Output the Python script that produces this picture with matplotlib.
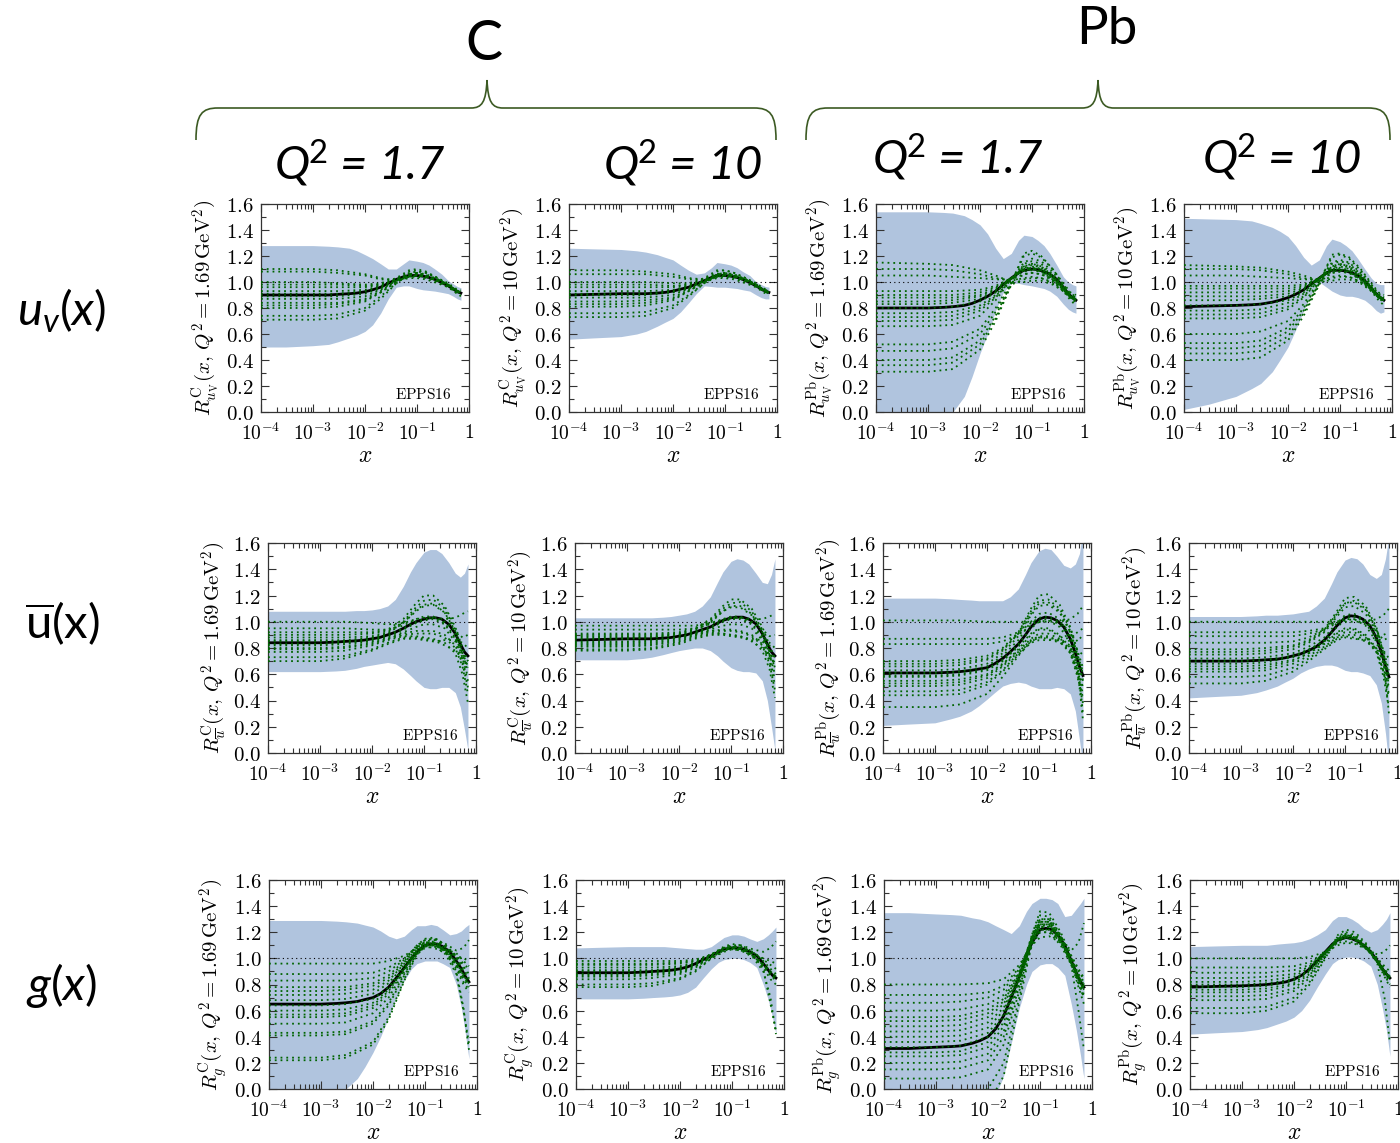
import numpy as np
import matplotlib
matplotlib.use("Agg")
import matplotlib.pyplot as plt
from matplotlib.path import Path
from matplotlib.patches import PathPatch
from matplotlib.ticker import FixedLocator, MultipleLocator, FuncFormatter, NullFormatter

plt.rcParams["mathtext.fontset"] = "cm"
plt.rcParams["mathtext.rm"] = "Lato"
plt.rcParams["mathtext.it"] = "Lato:italic"
plt.rcParams["mathtext.bf"] = "Lato:bold"

# ---------------------------------------------------------------- data
# x nodes for the central fit and the uncertainty band
X_FINE = [1e-4, 3e-4, 1e-3, 2e-3, 3e-3, 5e-3, 7e-3, 1e-2, 1.4e-2, 2e-2, 2.8e-2, 4e-2,
          5.5e-2, 7e-2, 0.1, 0.13, 0.17, 0.22, 0.3, 0.4, 0.5, 0.6, 0.7]
# x nodes for the individual error sets
X_SETS = [1e-4, 1e-3, 3e-3, 1e-2, 2e-2, 4e-2, 7e-2, 0.1, 0.15, 0.25, 0.4, 0.55, 0.7]

# ---- valence u, Carbon, Q^2 = 1.69 GeV^2
uv_C_17_mid = [0.90, 0.90, 0.90, 0.90, 0.905, 0.91, 0.915, 0.925, 0.94, 0.96, 0.99, 1.02,
               1.04, 1.05, 1.05, 1.045, 1.035, 1.02, 0.995, 0.97, 0.945, 0.925, 0.915]
uv_C_17_hi = [1.28, 1.28, 1.28, 1.275, 1.27, 1.26, 1.24, 1.21, 1.18, 1.14, 1.10, 1.10,
              1.14, 1.17, 1.16, 1.15, 1.13, 1.10, 1.06, 1.01, 0.985, 0.965, 0.955]
uv_C_17_lo = [0.50, 0.50, 0.51, 0.52, 0.54, 0.57, 0.59, 0.62, 0.67, 0.76, 0.87, 0.96,
              0.97, 0.97, 0.95, 0.94, 0.935, 0.93, 0.92, 0.91, 0.89, 0.87, 0.86]
uv_C_17_sets = [
    [1.10, 1.10, 1.09, 1.06, 1.03, 1.01, 1.05, 1.06, 1.05, 1.01, 0.97, 0.93, 0.92],
    [1.08, 1.08, 1.07, 1.05, 1.02, 1.02, 1.08, 1.09, 1.07, 1.03, 0.98, 0.94, 0.93],
    [1.00, 1.00, 0.99, 0.98, 0.99, 1.03, 1.09, 1.10, 1.08, 1.03, 0.99, 0.95, 0.94],
    [0.98, 0.98, 0.98, 0.97, 0.98, 1.02, 1.06, 1.07, 1.05, 1.02, 0.98, 0.94, 0.92],
    [0.96, 0.96, 0.96, 0.96, 0.98, 1.02, 1.06, 1.07, 1.05, 1.02, 0.97, 0.93, 0.91],
    [0.93, 0.93, 0.93, 0.94, 0.97, 1.02, 1.05, 1.05, 1.04, 1.01, 0.97, 0.93, 0.92],
    [0.91, 0.91, 0.91, 0.93, 0.96, 1.02, 1.05, 1.05, 1.04, 1.01, 0.97, 0.93, 0.91],
    [0.89, 0.89, 0.89, 0.91, 0.95, 1.01, 1.04, 1.05, 1.04, 1.01, 0.97, 0.93, 0.91],
    [0.87, 0.87, 0.87, 0.89, 0.94, 1.01, 1.04, 1.04, 1.03, 1.00, 0.96, 0.92, 0.90],
    [0.84, 0.84, 0.84, 0.87, 0.93, 1.01, 1.03, 1.03, 1.02, 0.99, 0.96, 0.92, 0.89],
    [0.82, 0.82, 0.83, 0.86, 0.92, 1.00, 1.05, 1.06, 1.05, 1.02, 0.97, 0.93, 0.92],
    [0.80, 0.80, 0.81, 0.85, 0.92, 1.00, 1.04, 1.05, 1.04, 1.01, 0.97, 0.93, 0.91],
    [0.74, 0.74, 0.75, 0.80, 0.89, 0.99, 1.06, 1.07, 1.06, 1.02, 0.98, 0.94, 0.92],
    [0.71, 0.71, 0.72, 0.78, 0.87, 0.99, 1.07, 1.08, 1.07, 1.03, 0.98, 0.94, 0.93],
]

# ---- valence u, Carbon, Q^2 = 10 GeV^2
uv_C_10_mid = [0.90, 0.905, 0.91, 0.91, 0.91, 0.915, 0.92, 0.93, 0.945, 0.96, 0.985, 1.01,
               1.035, 1.05, 1.05, 1.045, 1.035, 1.02, 0.995, 0.97, 0.945, 0.93, 0.92]
uv_C_10_hi = [1.26, 1.255, 1.25, 1.24, 1.23, 1.21, 1.19, 1.17, 1.13, 1.09, 1.06, 1.07,
              1.11, 1.15, 1.14, 1.13, 1.11, 1.08, 1.05, 1.00, 0.98, 0.965, 0.96]
uv_C_10_lo = [0.56, 0.57, 0.58, 0.60, 0.62, 0.66, 0.69, 0.72, 0.77, 0.84, 0.91, 0.97,
              0.965, 0.96, 0.96, 0.955, 0.95, 0.94, 0.93, 0.90, 0.88, 0.87, 0.87]
uv_C_10_sets = [
    [1.09, 1.09, 1.08, 1.06, 1.03, 1.02, 1.06, 1.07, 1.05, 1.02, 0.98, 0.94, 0.93],
    [1.06, 1.06, 1.06, 1.04, 1.02, 1.02, 1.08, 1.09, 1.07, 1.03, 0.98, 0.94, 0.93],
    [1.00, 1.00, 1.00, 0.99, 0.99, 1.03, 1.09, 1.09, 1.07, 1.03, 0.99, 0.95, 0.94],
    [0.98, 0.98, 0.98, 0.97, 0.98, 1.02, 1.06, 1.07, 1.05, 1.02, 0.98, 0.94, 0.93],
    [0.96, 0.96, 0.96, 0.96, 0.98, 1.02, 1.06, 1.06, 1.05, 1.02, 0.97, 0.94, 0.92],
    [0.93, 0.93, 0.93, 0.94, 0.97, 1.01, 1.05, 1.05, 1.04, 1.01, 0.97, 0.93, 0.92],
    [0.91, 0.91, 0.91, 0.93, 0.96, 1.01, 1.05, 1.05, 1.04, 1.01, 0.97, 0.94, 0.92],
    [0.90, 0.90, 0.90, 0.92, 0.95, 1.01, 1.04, 1.05, 1.04, 1.01, 0.97, 0.93, 0.91],
    [0.88, 0.88, 0.88, 0.90, 0.95, 1.01, 1.04, 1.04, 1.03, 1.00, 0.96, 0.93, 0.91],
    [0.85, 0.85, 0.86, 0.88, 0.94, 1.00, 1.03, 1.03, 1.02, 0.99, 0.96, 0.92, 0.90],
    [0.83, 0.83, 0.84, 0.87, 0.93, 1.00, 1.05, 1.06, 1.05, 1.02, 0.97, 0.93, 0.92],
    [0.81, 0.81, 0.82, 0.86, 0.93, 1.00, 1.04, 1.05, 1.04, 1.01, 0.97, 0.93, 0.91],
    [0.76, 0.76, 0.77, 0.82, 0.90, 0.99, 1.06, 1.07, 1.05, 1.02, 0.97, 0.94, 0.92],
    [0.73, 0.73, 0.74, 0.80, 0.89, 0.99, 1.06, 1.07, 1.06, 1.02, 0.98, 0.94, 0.92],
]

# ---- valence u, Lead, Q^2 = 1.69 GeV^2
uv_Pb_17_mid = [0.80, 0.80, 0.80, 0.805, 0.81, 0.82, 0.835, 0.86, 0.89, 0.93, 0.98, 1.03,
                1.07, 1.09, 1.10, 1.095, 1.08, 1.06, 1.02, 0.96, 0.91, 0.88, 0.86]
uv_Pb_17_hi = [1.54, 1.54, 1.54, 1.535, 1.53, 1.51, 1.48, 1.44, 1.37, 1.26, 1.18, 1.22,
               1.32, 1.36, 1.35, 1.32, 1.28, 1.22, 1.13, 1.04, 1.00, 0.98, 0.97]
uv_Pb_17_lo = [-0.30, -0.22, -0.15, -0.06, 0.00, 0.12, 0.27, 0.45, 0.60, 0.78, 0.92, 0.99,
               0.99, 0.98, 0.97, 0.96, 0.95, 0.93, 0.89, 0.83, 0.79, 0.77, 0.76]
uv_Pb_17_sets = [
    [1.15, 1.14, 1.13, 1.09, 1.05, 1.00, 1.00, 1.01, 1.01, 0.98, 0.93, 0.88, 0.86],
    [1.10, 1.10, 1.09, 1.06, 1.03, 1.01, 1.03, 1.04, 1.03, 0.99, 0.93, 0.88, 0.86],
    [1.05, 1.05, 1.04, 1.03, 1.02, 1.02, 1.06, 1.07, 1.06, 1.01, 0.94, 0.88, 0.86],
    [0.93, 0.93, 0.93, 0.94, 0.97, 1.03, 1.10, 1.12, 1.10, 1.04, 0.95, 0.89, 0.87],
    [0.90, 0.90, 0.90, 0.92, 0.96, 1.03, 1.11, 1.13, 1.11, 1.04, 0.96, 0.89, 0.87],
    [0.88, 0.88, 0.88, 0.90, 0.95, 1.03, 1.12, 1.14, 1.12, 1.05, 0.96, 0.90, 0.88],
    [0.85, 0.85, 0.86, 0.89, 0.94, 1.03, 1.08, 1.09, 1.08, 1.02, 0.94, 0.88, 0.86],
    [0.83, 0.83, 0.84, 0.87, 0.93, 1.03, 1.09, 1.10, 1.09, 1.03, 0.95, 0.89, 0.86],
    [0.80, 0.80, 0.81, 0.85, 0.92, 1.03, 1.09, 1.10, 1.08, 1.02, 0.94, 0.88, 0.86],
    [0.76, 0.76, 0.77, 0.82, 0.90, 1.03, 1.10, 1.11, 1.09, 1.03, 0.95, 0.89, 0.87],
    [0.73, 0.73, 0.74, 0.80, 0.89, 1.02, 1.12, 1.14, 1.12, 1.05, 0.96, 0.89, 0.87],
    [0.70, 0.70, 0.71, 0.78, 0.88, 1.02, 1.15, 1.18, 1.16, 1.08, 0.97, 0.90, 0.88],
    [0.66, 0.66, 0.67, 0.74, 0.86, 1.02, 1.10, 1.11, 1.10, 1.04, 0.95, 0.89, 0.86],
    [0.52, 0.52, 0.54, 0.64, 0.80, 1.00, 1.20, 1.22, 1.19, 1.10, 0.98, 0.91, 0.89],
    [0.47, 0.47, 0.49, 0.60, 0.77, 0.99, 1.06, 1.07, 1.06, 1.02, 0.94, 0.88, 0.84],
    [0.40, 0.40, 0.42, 0.55, 0.74, 0.99, 1.22, 1.24, 1.20, 1.10, 0.99, 0.92, 0.90],
    [0.36, 0.36, 0.38, 0.52, 0.72, 0.98, 1.02, 1.03, 1.03, 1.00, 0.93, 0.86, 0.82],
    [0.31, 0.31, 0.33, 0.48, 0.70, 0.98, 1.14, 1.16, 1.14, 1.06, 0.96, 0.89, 0.86],
]

# ---- valence u, Lead, Q^2 = 10 GeV^2
uv_Pb_10_mid = [0.81, 0.815, 0.82, 0.825, 0.83, 0.845, 0.86, 0.88, 0.905, 0.94, 0.985, 1.03,
                1.07, 1.09, 1.09, 1.085, 1.07, 1.05, 1.01, 0.95, 0.91, 0.88, 0.86]
uv_Pb_10_hi = [1.49, 1.485, 1.48, 1.47, 1.45, 1.42, 1.39, 1.35, 1.28, 1.19, 1.13, 1.17,
               1.28, 1.33, 1.31, 1.28, 1.24, 1.18, 1.10, 1.03, 0.99, 0.98, 0.98]
uv_Pb_10_lo = [0.02, 0.06, 0.12, 0.18, 0.22, 0.31, 0.40, 0.50, 0.63, 0.78, 0.91, 1.00,
               0.96, 0.93, 0.90, 0.89, 0.89, 0.88, 0.86, 0.82, 0.78, 0.76, 0.77]
uv_Pb_10_sets = [
    [1.13, 1.12, 1.11, 1.08, 1.05, 1.01, 1.01, 1.02, 1.02, 0.99, 0.93, 0.88, 0.86],
    [1.10, 1.10, 1.09, 1.06, 1.03, 1.01, 1.04, 1.05, 1.04, 1.00, 0.94, 0.88, 0.86],
    [1.05, 1.05, 1.04, 1.03, 1.02, 1.02, 1.07, 1.08, 1.07, 1.02, 0.94, 0.88, 0.86],
    [0.97, 0.97, 0.97, 0.97, 0.98, 1.03, 1.10, 1.12, 1.10, 1.04, 0.95, 0.89, 0.87],
    [0.95, 0.95, 0.95, 0.95, 0.97, 1.03, 1.11, 1.13, 1.11, 1.04, 0.96, 0.89, 0.87],
    [0.92, 0.92, 0.92, 0.93, 0.96, 1.03, 1.12, 1.14, 1.12, 1.05, 0.96, 0.90, 0.88],
    [0.89, 0.89, 0.89, 0.91, 0.95, 1.03, 1.08, 1.09, 1.08, 1.02, 0.94, 0.88, 0.86],
    [0.86, 0.86, 0.87, 0.89, 0.94, 1.03, 1.09, 1.10, 1.09, 1.03, 0.95, 0.89, 0.86],
    [0.82, 0.82, 0.83, 0.86, 0.92, 1.03, 1.09, 1.10, 1.08, 1.02, 0.94, 0.88, 0.86],
    [0.78, 0.78, 0.79, 0.84, 0.91, 1.03, 1.10, 1.11, 1.09, 1.03, 0.95, 0.89, 0.87],
    [0.75, 0.75, 0.76, 0.81, 0.89, 1.02, 1.12, 1.14, 1.12, 1.05, 0.96, 0.89, 0.87],
    [0.72, 0.72, 0.73, 0.79, 0.88, 1.02, 1.15, 1.17, 1.15, 1.07, 0.97, 0.90, 0.88],
    [0.60, 0.60, 0.62, 0.70, 0.83, 1.01, 1.19, 1.21, 1.18, 1.09, 0.98, 0.91, 0.89],
    [0.53, 0.53, 0.55, 0.65, 0.80, 1.00, 1.07, 1.08, 1.07, 1.02, 0.94, 0.88, 0.84],
    [0.49, 0.49, 0.51, 0.62, 0.78, 0.99, 1.21, 1.22, 1.19, 1.10, 0.99, 0.92, 0.90],
    [0.45, 0.45, 0.47, 0.58, 0.76, 0.99, 1.03, 1.04, 1.04, 1.00, 0.93, 0.86, 0.82],
    [0.40, 0.40, 0.42, 0.55, 0.74, 0.98, 1.14, 1.16, 1.14, 1.06, 0.96, 0.89, 0.86],
]

# ---- anti-u, Carbon, Q^2 = 1.69 GeV^2
ub_C_17_mid = [0.84, 0.84, 0.84, 0.845, 0.85, 0.855, 0.86, 0.87, 0.88, 0.90, 0.92, 0.95,
               0.98, 1.00, 1.02, 1.03, 1.03, 1.02, 0.98, 0.91, 0.83, 0.77, 0.74]
ub_C_17_hi = [1.08, 1.08, 1.08, 1.08, 1.08, 1.085, 1.085, 1.09, 1.10, 1.12, 1.17, 1.27,
              1.38, 1.45, 1.53, 1.55, 1.55, 1.52, 1.45, 1.37, 1.34, 1.37, 1.44]
ub_C_17_lo = [0.62, 0.62, 0.62, 0.625, 0.63, 0.645, 0.66, 0.67, 0.68, 0.69, 0.68, 0.64,
              0.59, 0.55, 0.50, 0.49, 0.49, 0.50, 0.50, 0.46, 0.35, 0.18, 0.02]
ub_C_17_sets = [
    [1.00, 1.00, 1.00, 0.99, 0.98, 0.99, 1.02, 1.03, 1.03, 1.02, 1.03, 1.06, 1.08],
    [0.95, 0.95, 0.95, 0.94, 0.94, 0.97, 1.02, 1.04, 1.04, 1.00, 0.93, 0.88, 0.90],
    [0.92, 0.92, 0.92, 0.92, 0.94, 1.02, 1.14, 1.20, 1.20, 1.12, 0.96, 0.80, 0.70],
    [0.90, 0.90, 0.90, 0.91, 0.93, 0.99, 1.08, 1.12, 1.13, 1.07, 0.93, 0.76, 0.66],
    [0.88, 0.88, 0.88, 0.89, 0.92, 1.00, 1.11, 1.16, 1.17, 1.10, 0.94, 0.76, 0.62],
    [0.86, 0.86, 0.86, 0.88, 0.91, 0.99, 1.09, 1.13, 1.14, 1.07, 0.91, 0.72, 0.58],
    [0.85, 0.85, 0.85, 0.87, 0.90, 0.95, 1.00, 1.02, 1.03, 0.99, 0.88, 0.76, 0.70],
    [0.83, 0.83, 0.84, 0.86, 0.89, 0.94, 0.99, 1.01, 1.02, 0.98, 0.87, 0.74, 0.66],
    [0.82, 0.82, 0.83, 0.85, 0.88, 0.92, 0.96, 0.98, 0.98, 0.95, 0.85, 0.70, 0.55],
    [0.80, 0.80, 0.81, 0.84, 0.87, 0.90, 0.91, 0.91, 0.91, 0.88, 0.80, 0.66, 0.45],
    [0.79, 0.79, 0.80, 0.83, 0.87, 0.91, 0.93, 0.93, 0.93, 0.90, 0.82, 0.68, 0.50],
    [0.77, 0.77, 0.78, 0.82, 0.86, 0.89, 0.89, 0.88, 0.87, 0.84, 0.76, 0.60, 0.38],
    [0.73, 0.73, 0.74, 0.79, 0.84, 0.88, 0.88, 0.87, 0.86, 0.82, 0.78, 0.72, 0.65],
    [0.70, 0.70, 0.72, 0.78, 0.83, 0.87, 0.87, 0.86, 0.85, 0.86, 0.86, 0.84, 0.80],
]

# ---- anti-u, Carbon, Q^2 = 10 GeV^2
ub_C_10_mid = [0.86, 0.865, 0.87, 0.87, 0.87, 0.875, 0.88, 0.89, 0.90, 0.92, 0.94, 0.96,
               0.99, 1.01, 1.03, 1.035, 1.035, 1.02, 0.985, 0.91, 0.83, 0.77, 0.74]
ub_C_10_hi = [1.03, 1.03, 1.03, 1.03, 1.03, 1.035, 1.04, 1.05, 1.06, 1.08, 1.12, 1.19,
              1.30, 1.38, 1.46, 1.48, 1.47, 1.44, 1.37, 1.30, 1.29, 1.36, 1.48]
ub_C_10_lo = [0.71, 0.71, 0.71, 0.72, 0.73, 0.75, 0.765, 0.78, 0.79, 0.80, 0.80, 0.78,
              0.74, 0.70, 0.65, 0.63, 0.62, 0.62, 0.61, 0.55, 0.40, 0.20, 0.02]
ub_C_10_sets = [
    [0.97, 0.97, 0.97, 0.97, 0.97, 0.99, 1.02, 1.03, 1.03, 1.02, 1.02, 1.04, 1.06],
    [0.94, 0.94, 0.94, 0.94, 0.95, 0.98, 1.02, 1.04, 1.04, 1.00, 0.94, 0.89, 0.90],
    [0.91, 0.91, 0.91, 0.92, 0.95, 1.02, 1.12, 1.17, 1.17, 1.10, 0.96, 0.82, 0.72],
    [0.90, 0.90, 0.90, 0.91, 0.94, 1.00, 1.08, 1.11, 1.11, 1.05, 0.92, 0.77, 0.68],
    [0.89, 0.89, 0.89, 0.91, 0.94, 1.01, 1.10, 1.14, 1.15, 1.08, 0.94, 0.78, 0.65],
    [0.88, 0.88, 0.88, 0.90, 0.92, 0.96, 1.01, 1.03, 1.03, 0.99, 0.89, 0.78, 0.72],
    [0.87, 0.87, 0.88, 0.90, 0.93, 0.99, 1.08, 1.12, 1.12, 1.06, 0.92, 0.75, 0.60],
    [0.85, 0.85, 0.86, 0.88, 0.91, 0.94, 0.97, 0.98, 0.98, 0.95, 0.86, 0.72, 0.56],
    [0.84, 0.84, 0.85, 0.88, 0.91, 0.95, 1.00, 1.02, 1.02, 0.98, 0.87, 0.74, 0.66],
    [0.83, 0.83, 0.84, 0.87, 0.90, 0.93, 0.93, 0.93, 0.92, 0.89, 0.82, 0.68, 0.48],
    [0.82, 0.82, 0.83, 0.86, 0.90, 0.93, 0.94, 0.94, 0.93, 0.90, 0.83, 0.70, 0.52],
    [0.81, 0.81, 0.82, 0.85, 0.89, 0.92, 0.91, 0.90, 0.89, 0.86, 0.78, 0.64, 0.42],
    [0.79, 0.79, 0.80, 0.84, 0.88, 0.91, 0.91, 0.90, 0.89, 0.85, 0.80, 0.74, 0.68],
    [0.78, 0.78, 0.79, 0.83, 0.87, 0.90, 0.90, 0.89, 0.88, 0.87, 0.86, 0.84, 0.80],
]

# ---- anti-u, Lead, Q^2 = 1.69 GeV^2
ub_Pb_17_mid = [0.61, 0.61, 0.61, 0.615, 0.62, 0.63, 0.64, 0.65, 0.68, 0.72, 0.77, 0.83,
                0.90, 0.96, 1.02, 1.035, 1.03, 1.01, 0.96, 0.87, 0.76, 0.66, 0.59]
ub_Pb_17_hi = [1.18, 1.18, 1.18, 1.175, 1.17, 1.165, 1.16, 1.16, 1.16, 1.16, 1.19, 1.25,
               1.36, 1.45, 1.54, 1.56, 1.55, 1.50, 1.43, 1.41, 1.44, 1.52, 1.70]
ub_Pb_17_lo = [0.21, 0.22, 0.23, 0.26, 0.28, 0.32, 0.36, 0.41, 0.46, 0.51, 0.53, 0.54,
               0.53, 0.51, 0.49, 0.49, 0.49, 0.50, 0.49, 0.45, 0.32, 0.10, -0.10]
ub_Pb_17_sets = [
    [1.01, 1.01, 1.01, 1.00, 1.00, 1.00, 1.00, 1.00, 1.00, 1.00, 1.02, 1.06, 1.12],
    [0.87, 0.87, 0.87, 0.87, 0.88, 0.92, 0.99, 1.03, 1.04, 1.00, 0.92, 0.85, 0.90],
    [0.83, 0.83, 0.83, 0.83, 0.85, 0.90, 0.97, 1.01, 1.02, 0.98, 0.88, 0.78, 0.75],
    [0.70, 0.70, 0.71, 0.74, 0.80, 0.92, 1.08, 1.16, 1.17, 1.10, 0.95, 0.78, 0.65],
    [0.68, 0.68, 0.69, 0.72, 0.79, 0.91, 1.06, 1.14, 1.15, 1.08, 0.93, 0.75, 0.62],
    [0.66, 0.66, 0.67, 0.71, 0.78, 0.91, 1.10, 1.20, 1.21, 1.13, 0.96, 0.76, 0.60],
    [0.63, 0.63, 0.64, 0.68, 0.76, 0.89, 1.05, 1.12, 1.13, 1.07, 0.92, 0.72, 0.55],
    [0.61, 0.61, 0.62, 0.66, 0.74, 0.86, 1.00, 1.06, 1.07, 1.02, 0.88, 0.70, 0.56],
    [0.59, 0.59, 0.60, 0.64, 0.71, 0.83, 0.95, 1.00, 1.01, 0.96, 0.84, 0.66, 0.50],
    [0.58, 0.58, 0.59, 0.63, 0.70, 0.81, 0.91, 0.95, 0.95, 0.90, 0.80, 0.62, 0.45],
    [0.55, 0.55, 0.56, 0.60, 0.68, 0.78, 0.87, 0.91, 0.91, 0.87, 0.76, 0.58, 0.38],
    [0.53, 0.53, 0.54, 0.59, 0.67, 0.79, 0.90, 0.94, 0.94, 0.89, 0.78, 0.60, 0.42],
    [0.51, 0.51, 0.52, 0.57, 0.66, 0.77, 0.86, 0.89, 0.89, 0.85, 0.76, 0.62, 0.50],
    [0.47, 0.47, 0.48, 0.54, 0.63, 0.76, 0.85, 0.88, 0.87, 0.84, 0.80, 0.70, 0.30],
    [0.44, 0.44, 0.45, 0.52, 0.62, 0.75, 0.84, 0.86, 0.86, 0.86, 0.88, 0.92, 0.95],
    [0.35, 0.35, 0.37, 0.45, 0.58, 0.74, 0.85, 0.88, 0.88, 0.86, 0.82, 0.65, 0.25],
]

# ---- anti-u, Lead, Q^2 = 10 GeV^2
ub_Pb_10_mid = [0.70, 0.70, 0.70, 0.705, 0.71, 0.715, 0.725, 0.74, 0.755, 0.78, 0.81, 0.86,
                0.92, 0.97, 1.03, 1.045, 1.04, 1.02, 0.97, 0.88, 0.77, 0.66, 0.58]
ub_Pb_10_hi = [1.04, 1.04, 1.04, 1.045, 1.05, 1.05, 1.055, 1.06, 1.07, 1.08, 1.12, 1.18,
               1.29, 1.38, 1.47, 1.49, 1.48, 1.44, 1.36, 1.33, 1.36, 1.48, 1.65]
ub_Pb_10_lo = [0.42, 0.43, 0.44, 0.46, 0.48, 0.51, 0.54, 0.57, 0.61, 0.64, 0.66, 0.67,
               0.67, 0.66, 0.63, 0.62, 0.62, 0.61, 0.59, 0.52, 0.38, 0.15, -0.10]
ub_Pb_10_sets = [
    [1.00, 1.00, 1.00, 1.00, 1.00, 1.00, 1.00, 1.00, 1.00, 1.00, 1.02, 1.05, 1.10],
    [0.92, 0.92, 0.92, 0.92, 0.93, 0.95, 1.00, 1.03, 1.04, 1.00, 0.93, 0.86, 0.88],
    [0.89, 0.89, 0.89, 0.89, 0.91, 0.94, 0.99, 1.02, 1.02, 0.98, 0.89, 0.78, 0.72],
    [0.84, 0.84, 0.84, 0.85, 0.88, 0.94, 1.06, 1.14, 1.16, 1.10, 0.95, 0.78, 0.63],
    [0.79, 0.79, 0.80, 0.82, 0.86, 0.94, 1.08, 1.18, 1.19, 1.12, 0.96, 0.76, 0.58],
    [0.77, 0.77, 0.78, 0.81, 0.85, 0.93, 1.06, 1.14, 1.15, 1.09, 0.94, 0.75, 0.60],
    [0.75, 0.75, 0.76, 0.79, 0.84, 0.92, 1.04, 1.11, 1.12, 1.06, 0.92, 0.72, 0.52],
    [0.72, 0.72, 0.73, 0.76, 0.81, 0.88, 0.99, 1.05, 1.06, 1.01, 0.88, 0.70, 0.55],
    [0.70, 0.70, 0.71, 0.74, 0.79, 0.85, 0.92, 0.95, 0.95, 0.90, 0.80, 0.62, 0.42],
    [0.68, 0.68, 0.69, 0.73, 0.78, 0.86, 0.96, 1.01, 1.02, 0.97, 0.85, 0.67, 0.50],
    [0.66, 0.66, 0.67, 0.71, 0.76, 0.83, 0.89, 0.92, 0.92, 0.88, 0.77, 0.58, 0.35],
    [0.64, 0.64, 0.65, 0.70, 0.76, 0.84, 0.91, 0.94, 0.94, 0.89, 0.79, 0.62, 0.45],
    [0.62, 0.62, 0.63, 0.68, 0.74, 0.81, 0.88, 0.90, 0.90, 0.86, 0.77, 0.62, 0.48],
    [0.58, 0.58, 0.59, 0.65, 0.72, 0.80, 0.87, 0.89, 0.88, 0.85, 0.80, 0.70, 0.30],
    [0.53, 0.53, 0.55, 0.62, 0.70, 0.79, 0.86, 0.88, 0.87, 0.86, 0.88, 0.90, 0.92],
]

# ---- gluon, Carbon, Q^2 = 1.69 GeV^2
g_C_17_mid = [0.65, 0.65, 0.65, 0.655, 0.66, 0.67, 0.685, 0.70, 0.73, 0.78, 0.85, 0.93,
              1.00, 1.05, 1.10, 1.11, 1.11, 1.09, 1.05, 0.98, 0.92, 0.86, 0.82]
g_C_17_hi = [1.29, 1.29, 1.29, 1.285, 1.28, 1.27, 1.255, 1.24, 1.21, 1.17, 1.15, 1.17,
             1.22, 1.25, 1.25, 1.26, 1.25, 1.22, 1.18, 1.19, 1.21, 1.24, 1.26]
g_C_17_lo = [-0.20, -0.12, -0.05, -0.01, 0.00, 0.08, 0.17, 0.28, 0.40, 0.55, 0.70, 0.83,
             0.92, 0.96, 0.98, 0.98, 0.98, 0.96, 0.93, 0.80, 0.62, 0.42, 0.23]
g_C_17_sets = [
    [0.96, 0.96, 0.96, 0.96, 0.98, 1.02, 1.08, 1.10, 1.10, 1.06, 1.02, 1.00, 0.98],
    [0.88, 0.88, 0.88, 0.89, 0.93, 1.00, 1.09, 1.12, 1.12, 1.08, 1.02, 0.96, 0.92],
    [0.83, 0.83, 0.83, 0.85, 0.90, 0.99, 1.10, 1.14, 1.15, 1.11, 1.06, 1.08, 1.14],
    [0.78, 0.78, 0.78, 0.81, 0.87, 0.98, 1.10, 1.15, 1.16, 1.10, 1.02, 0.94, 0.88],
    [0.75, 0.75, 0.76, 0.79, 0.85, 0.97, 1.09, 1.14, 1.15, 1.09, 1.00, 0.90, 0.84],
    [0.72, 0.72, 0.73, 0.76, 0.83, 0.96, 1.08, 1.13, 1.14, 1.09, 1.01, 0.92, 0.85],
    [0.68, 0.68, 0.69, 0.73, 0.81, 0.95, 1.07, 1.12, 1.13, 1.07, 0.98, 0.88, 0.82],
    [0.64, 0.64, 0.65, 0.69, 0.78, 0.93, 1.06, 1.11, 1.12, 1.06, 0.97, 0.87, 0.81],
    [0.60, 0.60, 0.61, 0.66, 0.76, 0.92, 1.06, 1.11, 1.12, 1.06, 0.96, 0.86, 0.80],
    [0.57, 0.57, 0.58, 0.64, 0.75, 0.92, 1.05, 1.10, 1.11, 1.05, 0.94, 0.82, 0.76],
    [0.55, 0.55, 0.56, 0.62, 0.73, 0.91, 1.07, 1.12, 1.12, 1.05, 0.92, 0.80, 0.74],
    [0.50, 0.50, 0.51, 0.58, 0.70, 0.90, 1.05, 1.10, 1.10, 1.03, 0.88, 0.60, 0.35],
    [0.43, 0.43, 0.44, 0.52, 0.66, 0.88, 1.04, 1.09, 1.08, 1.04, 0.95, 0.84, 0.78],
    [0.41, 0.41, 0.42, 0.50, 0.64, 0.87, 1.03, 1.08, 1.09, 1.07, 1.04, 0.98, 0.94],
    [0.24, 0.24, 0.26, 0.36, 0.55, 0.84, 1.04, 1.10, 1.11, 1.05, 0.90, 0.62, 0.30],
    [0.22, 0.22, 0.24, 0.34, 0.53, 0.83, 1.03, 1.09, 1.10, 1.06, 0.96, 0.86, 0.80],
]

# ---- gluon, Carbon, Q^2 = 10 GeV^2
g_C_10_mid = [0.89, 0.89, 0.89, 0.895, 0.90, 0.905, 0.91, 0.92, 0.935, 0.96, 0.99, 1.02,
              1.05, 1.07, 1.08, 1.08, 1.07, 1.05, 1.02, 0.96, 0.91, 0.87, 0.85]
g_C_10_hi = [1.08, 1.085, 1.09, 1.09, 1.09, 1.09, 1.085, 1.08, 1.075, 1.07, 1.07, 1.09,
             1.13, 1.16, 1.18, 1.18, 1.17, 1.15, 1.13, 1.15, 1.18, 1.21, 1.24]
g_C_10_lo = [0.69, 0.69, 0.69, 0.695, 0.70, 0.705, 0.71, 0.72, 0.74, 0.78, 0.85, 0.92,
             0.97, 0.99, 1.00, 1.00, 0.99, 0.97, 0.93, 0.80, 0.68, 0.55, 0.42]
g_C_10_sets = [
    [0.98, 0.98, 0.98, 0.98, 0.99, 1.03, 1.08, 1.09, 1.08, 1.04, 1.00, 0.98, 0.96],
    [0.96, 0.96, 0.96, 0.97, 0.98, 1.03, 1.08, 1.09, 1.09, 1.05, 0.99, 0.95, 0.92],
    [0.95, 0.95, 0.95, 0.96, 0.98, 1.03, 1.08, 1.10, 1.10, 1.07, 1.05, 1.08, 1.13],
    [0.93, 0.93, 0.93, 0.94, 0.97, 1.03, 1.09, 1.11, 1.10, 1.05, 0.98, 0.92, 0.88],
    [0.91, 0.91, 0.91, 0.93, 0.96, 1.02, 1.08, 1.09, 1.08, 1.03, 0.96, 0.90, 0.86],
    [0.90, 0.90, 0.90, 0.92, 0.96, 1.02, 1.08, 1.09, 1.08, 1.03, 0.95, 0.88, 0.84],
    [0.88, 0.88, 0.89, 0.91, 0.95, 1.02, 1.07, 1.08, 1.07, 1.02, 0.94, 0.87, 0.83],
    [0.87, 0.87, 0.88, 0.90, 0.94, 1.01, 1.07, 1.08, 1.07, 1.02, 0.93, 0.84, 0.80],
    [0.86, 0.86, 0.87, 0.89, 0.94, 1.01, 1.07, 1.08, 1.07, 1.02, 0.95, 0.88, 0.84],
    [0.84, 0.84, 0.85, 0.88, 0.93, 1.01, 1.06, 1.07, 1.06, 1.01, 0.90, 0.70, 0.42],
    [0.80, 0.80, 0.81, 0.85, 0.91, 1.00, 1.05, 1.07, 1.06, 1.02, 0.95, 0.90, 0.86],
    [0.78, 0.78, 0.79, 0.84, 0.90, 1.00, 1.06, 1.08, 1.07, 1.03, 0.92, 0.65, 0.45],
]

# ---- gluon, Lead, Q^2 = 1.69 GeV^2
g_Pb_17_mid = [0.31, 0.31, 0.32, 0.325, 0.33, 0.35, 0.37, 0.40, 0.46, 0.56, 0.70, 0.86,
               1.02, 1.12, 1.22, 1.23, 1.22, 1.18, 1.10, 0.98, 0.89, 0.82, 0.78]
g_Pb_17_hi = [1.35, 1.35, 1.34, 1.335, 1.33, 1.31, 1.30, 1.28, 1.25, 1.22, 1.19, 1.25,
              1.36, 1.42, 1.46, 1.46, 1.45, 1.42, 1.32, 1.33, 1.38, 1.42, 1.46]
g_Pb_17_lo = [-1.00, -0.90, -0.80, -0.70, -0.60, -0.45, -0.32, -0.20, -0.05, 0.10, 0.35, 0.62,
              0.80, 0.90, 0.95, 0.96, 0.96, 0.93, 0.87, 0.65, 0.45, 0.26, 0.08]
g_Pb_17_sets = [
    [0.80, 0.80, 0.80, 0.81, 0.84, 0.95, 1.10, 1.16, 1.17, 1.12, 1.02, 0.92, 0.85],
    [0.72, 0.72, 0.72, 0.74, 0.79, 0.93, 1.12, 1.20, 1.20, 1.14, 1.06, 1.12, 1.27],
    [0.66, 0.66, 0.67, 0.70, 0.76, 0.92, 1.14, 1.24, 1.24, 1.14, 0.98, 0.84, 0.76],
    [0.60, 0.60, 0.61, 0.65, 0.72, 0.90, 1.15, 1.26, 1.26, 1.15, 0.98, 0.82, 0.70],
    [0.55, 0.55, 0.56, 0.61, 0.69, 0.89, 1.16, 1.28, 1.28, 1.16, 0.97, 0.78, 0.65],
    [0.52, 0.52, 0.53, 0.58, 0.67, 0.88, 1.16, 1.28, 1.28, 1.16, 0.98, 0.84, 0.76],
    [0.48, 0.48, 0.49, 0.55, 0.65, 0.88, 1.17, 1.30, 1.30, 1.17, 0.98, 0.86, 0.80],
    [0.44, 0.44, 0.45, 0.51, 0.62, 0.87, 1.18, 1.33, 1.32, 1.18, 1.00, 0.88, 0.82],
    [0.40, 0.40, 0.41, 0.47, 0.60, 0.86, 1.15, 1.26, 1.26, 1.15, 0.95, 0.60, 0.30],
    [0.36, 0.36, 0.37, 0.43, 0.57, 0.85, 1.13, 1.24, 1.24, 1.13, 0.98, 0.86, 0.79],
    [0.32, 0.32, 0.33, 0.40, 0.55, 0.85, 1.12, 1.22, 1.22, 1.12, 0.98, 0.85, 0.78],
    [0.28, 0.28, 0.29, 0.36, 0.51, 0.83, 1.14, 1.26, 1.26, 1.14, 0.97, 0.84, 0.76],
    [0.25, 0.25, 0.26, 0.32, 0.48, 0.82, 1.12, 1.22, 1.22, 1.12, 0.96, 0.86, 0.80],
    [0.20, 0.20, 0.21, 0.27, 0.44, 0.80, 1.16, 1.30, 1.30, 1.17, 1.00, 0.85, 0.74],
    [0.15, 0.15, 0.16, 0.22, 0.40, 0.78, 1.10, 1.20, 1.20, 1.10, 0.95, 0.82, 0.72],
    [0.08, 0.08, 0.09, 0.15, 0.34, 0.75, 1.18, 1.36, 1.35, 1.20, 1.02, 0.90, 0.84],
    [-0.10, -0.10, -0.08, 0.00, 0.20, 0.70, 1.14, 1.28, 1.28, 1.15, 0.98, 0.84, 0.76],
    [-0.30, -0.30, -0.25, -0.12, 0.10, 0.66, 1.12, 1.25, 1.25, 1.13, 0.96, 0.80, 0.70],
]

# ---- gluon, Lead, Q^2 = 10 GeV^2
g_Pb_10_mid = [0.78, 0.785, 0.79, 0.795, 0.80, 0.81, 0.82, 0.84, 0.87, 0.92, 0.98, 1.05,
               1.11, 1.14, 1.16, 1.15, 1.13, 1.10, 1.05, 0.98, 0.92, 0.88, 0.85]
g_Pb_10_hi = [1.09, 1.095, 1.10, 1.10, 1.10, 1.11, 1.115, 1.12, 1.13, 1.15, 1.18, 1.22,
              1.29, 1.32, 1.32, 1.30, 1.27, 1.23, 1.20, 1.22, 1.26, 1.30, 1.35]
g_Pb_10_lo = [0.42, 0.43, 0.44, 0.455, 0.47, 0.50, 0.52, 0.55, 0.60, 0.68, 0.78, 0.88,
              0.96, 0.99, 1.01, 1.01, 1.00, 0.98, 0.94, 0.80, 0.62, 0.45, 0.25]
g_Pb_10_sets = [
    [1.00, 1.00, 1.00, 1.00, 1.01, 1.05, 1.10, 1.12, 1.11, 1.07, 1.03, 1.05, 1.10],
    [0.93, 0.93, 0.93, 0.94, 0.97, 1.05, 1.12, 1.13, 1.12, 1.07, 1.00, 0.94, 0.90],
    [0.89, 0.89, 0.89, 0.91, 0.95, 1.05, 1.14, 1.16, 1.15, 1.08, 0.99, 0.91, 0.86],
    [0.85, 0.85, 0.86, 0.88, 0.94, 1.05, 1.15, 1.18, 1.16, 1.09, 0.99, 0.90, 0.84],
    [0.82, 0.82, 0.83, 0.86, 0.93, 1.05, 1.14, 1.16, 1.14, 1.07, 0.98, 0.90, 0.85],
    [0.80, 0.80, 0.81, 0.84, 0.91, 1.04, 1.16, 1.19, 1.17, 1.09, 0.98, 0.88, 0.82],
    [0.78, 0.78, 0.79, 0.83, 0.91, 1.04, 1.14, 1.17, 1.15, 1.08, 0.98, 0.89, 0.84],
    [0.76, 0.76, 0.77, 0.81, 0.90, 1.04, 1.15, 1.18, 1.16, 1.08, 0.98, 0.88, 0.83],
    [0.74, 0.74, 0.75, 0.80, 0.88, 1.03, 1.15, 1.18, 1.16, 1.08, 0.97, 0.86, 0.78],
    [0.71, 0.71, 0.72, 0.77, 0.87, 1.03, 1.15, 1.18, 1.16, 1.09, 0.97, 0.87, 0.80],
    [0.68, 0.68, 0.69, 0.75, 0.85, 1.02, 1.17, 1.20, 1.18, 1.10, 0.96, 0.70, 0.35],
    [0.62, 0.62, 0.63, 0.70, 0.82, 1.01, 1.13, 1.16, 1.14, 1.07, 0.97, 0.90, 0.85],
    [0.58, 0.58, 0.60, 0.67, 0.80, 1.00, 1.18, 1.22, 1.20, 1.11, 1.00, 0.92, 0.86],
]

ROW_PARTONS = ["uv", "ub", "g"]
COL_NUCLEI = ["C", "C", "Pb", "Pb"]
COL_Q2 = ["17", "10", "17", "10"]
Q2_TEXT = {"17": r"1.69", "10": r"10"}
PARTON_SUB = {"uv": r"u_{\rm V}", "ub": r"\overline{u}", "g": r"g"}
X_TICKS = [1e-4, 1e-3, 1e-2, 1e-1, 1]
X_TICK_LABELS = [r"$10^{-4}$", r"$10^{-3}$", r"$10^{-2}$", r"$10^{-1}$", r"$1$"]
ROW_LABELS = [r"$\mathit{u_v(x)}$", r"$\overline{\mathrm{u}}(\mathrm{x})$", r"$\mathit{g(x)}$"]
NUCLEUS_HEADERS = ["C", "Pb"]
Q2_HEADERS = [r"$\mathit{Q}^{\!\mathit{2}}$ = 1.7", r"$\mathit{Q}^{\!\mathit{2}}$ = 10",
              r"$\mathit{Q}^{\!\mathit{2}}$ = 1.7", r"$\mathit{Q}^{\!\mathit{2}}$ = 10"]

BAND_COLOR = "#b0c4de"
SET_COLOR = "#006400"
BRACE_COLOR = "#3c5a23"

# ---------------------------------------------------------------- layout (pixels)
W, H = 1400, 1143
ROW_SPANS = [(204, 412), (543, 753), (880, 1089)]
COL_LEFTS = [[261, 569, 876, 1184], [268, 575, 883, 1189], [269, 576, 884, 1190]]
PANEL_W = 208

fig = plt.figure(figsize=(W / 100, H / 100), dpi=100)


def draw_panel(ax, parton, nucleus, q2):
    key = f"{parton}_{nucleus}_{q2}"
    mid = globals()[key + "_mid"]
    hi = globals()[key + "_hi"]
    lo = globals()[key + "_lo"]
    sets = globals()[key + "_sets"]

    ax.fill_between(X_FINE, lo, hi, color=BAND_COLOR, lw=0, zorder=1)
    ax.axhline(1.0, color="black", lw=0.8, ls=(0, (1, 3)), zorder=2)
    ax.plot(X_FINE, mid, color="black", lw=2.0, zorder=2.5,
            solid_joinstyle="round")
    for s in sets:
        ax.plot(X_SETS, s, color=SET_COLOR, lw=1.3, ls=(0, (1, 2.2)), zorder=3)

    ax.set_xscale("log")
    ax.set_xlim(1e-4, 1)
    ax.set_ylim(0, 1.6)
    ax.xaxis.set_major_locator(FixedLocator(X_TICKS))
    ax.set_xticklabels(X_TICK_LABELS)
    ax.xaxis.set_minor_locator(FixedLocator(
        [m * 10.0 ** e for e in range(-4, 0) for m in range(2, 10)]))
    ax.xaxis.set_minor_formatter(NullFormatter())
    ax.yaxis.set_major_locator(MultipleLocator(0.2))
    ax.yaxis.set_minor_locator(MultipleLocator(0.1))
    ax.yaxis.set_major_formatter(FuncFormatter(lambda v, p: rf"${v:.1f}$"))
    ax.tick_params(which="both", direction="in", top=True, right=True,
                   width=0.8, color="#333333")
    ax.tick_params(which="major", length=6)
    ax.tick_params(which="minor", length=3.5)
    ax.tick_params(axis="x", which="major", pad=8, labelsize=14)
    ax.tick_params(axis="y", which="major", pad=5, labelsize=15)
    for sp in ax.spines.values():
        sp.set_linewidth(0.9)
        sp.set_color("#333333")

    sub = PARTON_SUB[parton]
    ax.set_ylabel(rf"$R^{{\rm {nucleus}}}_{{{sub}}}(x,\,Q^2={Q2_TEXT[q2]}\,{{\rm GeV}}^2)$",
                  fontsize=15, labelpad=3)
    ax.set_xlabel(r"$x$", fontsize=17, labelpad=-1)
    ax.text(0.78, 0.085, r"$\mathrm{EPPS16}$", transform=ax.transAxes,
            ha="center", va="center", fontsize=11, zorder=5)


for r, parton in enumerate(ROW_PARTONS):
    top, bot = ROW_SPANS[r]
    for c in range(4):
        left = COL_LEFTS[r][c]
        ax = fig.add_axes([left / W, 1 - bot / H, PANEL_W / W, (bot - top) / H])
        draw_panel(ax, parton, COL_NUCLEI[c], COL_Q2[c])

# ---------------------------------------------------------------- headers
over = fig.add_axes([0, 0, 1, 1], zorder=-1)
over.set_xlim(0, W)
over.set_ylim(H, 0)
over.axis("off")


def brace(x0, xm, x1, y_end=140, y_line=108, y_tip=80):
    verts = [(x0, y_end), (x0, y_line + 6), (x0 + 6, y_line), (x0 + 22, y_line),
             (xm - 16, y_line),
             (xm - 5, y_line), (xm - 1, y_line - 6), (xm, y_tip),
             (xm + 1, y_line - 6), (xm + 5, y_line), (xm + 16, y_line),
             (x1 - 22, y_line),
             (x1 - 6, y_line), (x1, y_line + 6), (x1, y_end)]
    codes = [Path.MOVETO, Path.CURVE4, Path.CURVE4, Path.CURVE4,
             Path.LINETO,
             Path.CURVE4, Path.CURVE4, Path.CURVE4,
             Path.CURVE4, Path.CURVE4, Path.CURVE4,
             Path.LINETO,
             Path.CURVE4, Path.CURVE4, Path.CURVE4]
    over.add_patch(PathPatch(Path(verts, codes), fc="none", ec=BRACE_COLOR, lw=1.2))


brace(196, 487, 776)
brace(806, 1098, 1390)

over.text(484, 45, NUCLEUS_HEADERS[0], fontsize=40, family="Lato", ha="center", va="center")
over.text(1107, 29, NUCLEUS_HEADERS[1], fontsize=38, family="Lato", ha="center", va="center")

for (cx, cy), txt in zip([(360, 163), (683, 163), (958, 157), (1282, 157)], Q2_HEADERS):
    over.text(cx, cy, txt, fontsize=34, family="Lato", style="italic",
              ha="center", va="center", math_fontfamily="custom")

for cy, txt in zip([312, 624, 985], ROW_LABELS):
    over.text(62, cy, txt, fontsize=34, ha="center", va="center",
              math_fontfamily="custom")

fig.savefig("out.png", dpi=100)
